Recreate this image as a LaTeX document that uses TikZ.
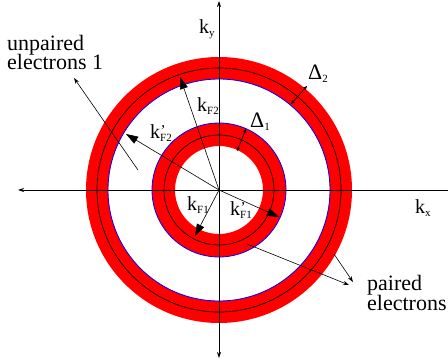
\documentclass[tikz,border=0pt]{standalone}
\usepackage{fontspec}
\setmainfont{Liberation Serif}
\usetikzlibrary{arrows.meta}
\newcommand{\ksb}[1]{\raisebox{-3pt}{\fontsize{11}{11}\selectfont #1}}
\newcommand{\kk}[1]{k\ksb{#1}}
\newcommand{\kp}[1]{k\rlap{\hspace{0.5pt}\raisebox{3pt}{\fontsize{15}{15}\selectfont ’}}\ksb{#1}}
\begin{document}
\begin{tikzpicture}[x=1pt,y=-1pt,
  lab/.style={anchor=base west, inner sep=0pt, font=\fontsize{20}{20}\selectfont},
  txt/.style={anchor=base west, inner sep=0pt, align=left, font=\fontsize{22}{20}\selectfont},
  karrow/.style={-{Triangle[length=12pt,width=8pt]}, line width=0.6pt},
  small/.style={-{Stealth[length=6pt,width=4pt]}, line width=0.6pt},
  darrow/.style={{Stealth[length=4pt,width=3.5pt]}-{Stealth[length=4pt,width=3.5pt]}, line width=0.7pt},
  axis/.style={line width=0.8pt}]
\useasboundingbox (0,0) rectangle (448,364);
\coordinate (O) at (219,190);
% rings
\fill[red, even odd rule] (O) circle[radius=133pt] (O) circle[radius=111pt];
\fill[red, even odd rule] (O) circle[radius=67pt] (O) circle[radius=44pt];
\draw[black, line width=0.7pt] (O) circle[radius=122pt] (O) circle[radius=55pt];
\draw[blue, line width=0.8pt] (O) circle[radius=111pt] (O) circle[radius=67pt];
% axes
\coordinate (xL) at (18,190);
\coordinate (xR) at (448,190);
\coordinate (yT) at (219,1);
\coordinate (yB) at (219,358);
\draw[axis, -{Stealth[length=6pt,width=4pt]}] (xR) -- (xL);
\draw[axis, {Stealth[length=6pt,width=4pt]}-{Stealth[length=6pt,width=4pt]}] (yB) -- (yT);
% radius arrows
\coordinate (tF2) at (180,77);
\coordinate (tF2p) at (126,134);
\coordinate (tF1) at (195,236);
\coordinate (tF1p) at (279,217);
\draw[karrow] (O) -- (tF2);
\draw[karrow] (O) -- (tF2p);
\draw[karrow] (O) -- (tF1);
\draw[karrow] (O) -- (tF1p);
% gap arrows
\coordinate (d1a) at (237,151);
\coordinate (d1b) at (246,129);
\coordinate (d2a) at (291,104);
\coordinate (d2b) at (307,86);
\draw[darrow] (d1a) -- (d1b);
\draw[darrow] (d2a) -- (d2b);
% pointer arrows
\coordinate (u0) at (138,170);
\coordinate (u1) at (74,78);
\draw[small] (u0) -- (u1);
\coordinate (p0) at (247,244);
\coordinate (p1) at (349,285);
\coordinate (q0) at (334,254);
\coordinate (q1) at (353,282);
\draw[small] (p0) -- (p1);
\draw[small] (q0) -- (q1);
% labels
\node[lab] (ky) at (199,33) {k\ksb{y}};
\node[lab] (kx) at (415,213) {k\ksb{x}};
\node[lab] (kF2) at (197,111) {\kk{F2}};
\node[lab] (kF2p) at (150,138) {\kp{F2}};
\node[lab] (kF1) at (187,210) {\kk{F1}};
\node[lab] (kF1p) at (230,215) {\kp{F1}};
\node[lab, font=\fontsize{22}{22}\selectfont] (D2) at (308,79) {Δ\ksb{2}};
\node[lab, font=\fontsize{22}{22}\selectfont] (D1) at (250,127) {Δ\ksb{1}};
\node[txt] (unp) at (7,70) {unpaired\\electrons 1};
\node[txt] (pai) at (367,310) {paired\\electrons};
\end{tikzpicture}
\end{document}
